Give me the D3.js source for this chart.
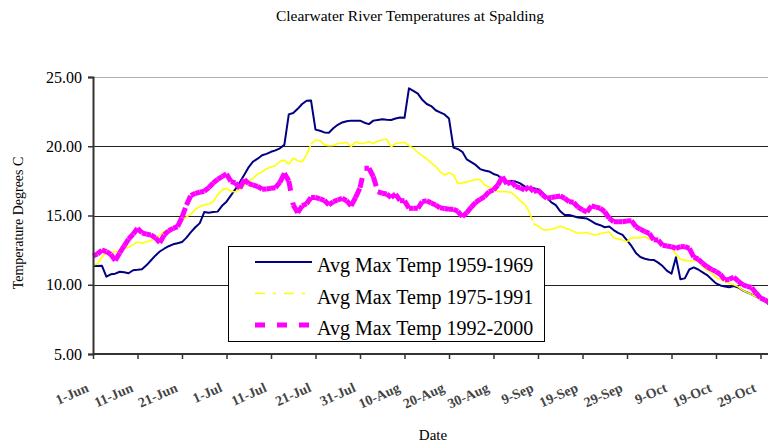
<!DOCTYPE html>
<html>
<head>
<meta charset="utf-8">
<script src="https://cdn.jsdelivr.net/npm/d3@7"></script>
<style>
body { margin: 0; background: #fff; }
svg { display: block; font-family: "Liberation Serif", "Times New Roman", serif; }
</style>
</head>
<body>
<div id="chart"></div>
<script>
// daily average max temperatures, 1 Jun .. 31 Oct
const temps1959 = [
  11.35, 11.35, 11.38, 10.58, 10.75, 10.8, 10.94, 10.9, 10.83, 11.05,
  11.08, 11.12, 11.4, 11.75, 12.1, 12.4, 12.6, 12.78, 12.92, 13.0,
  13.08, 13.4, 13.8, 14.15, 14.45, 15.25, 15.2, 15.25, 15.28, 15.7,
  16.0, 16.45, 16.9, 17.4, 17.95, 18.5, 18.9, 19.1, 19.35, 19.45,
  19.6, 19.7, 19.85, 20.1, 22.3, 22.4, 22.7, 23.05, 23.29, 23.3,
  21.2, 21.12, 21.0, 20.98, 21.3, 21.55, 21.72, 21.8, 21.85, 21.85,
  21.85, 21.7, 21.6, 21.85, 21.9, 21.95, 21.92, 21.9, 22.0, 22.08,
  22.05, 24.18, 24.0, 23.8, 23.35, 23.05, 22.9, 22.6, 22.45, 22.3,
  22.0, 19.9, 19.8, 19.6, 19.05, 18.85, 18.65, 18.35, 18.25, 18.18,
  18.0, 17.9, 17.55, 17.44, 17.5, 17.45, 17.32, 17.1, 16.96, 16.96,
  16.9, 16.65, 16.3, 15.95, 15.75, 15.3, 15.04, 15.04, 14.95, 14.85,
  14.82, 14.78, 14.6, 14.4, 14.3, 14.15, 14.2, 13.95, 13.75, 13.6,
  13.2, 12.8, 12.3, 12.0, 11.88, 11.8, 11.79, 11.6, 11.35, 11.0,
  10.8, 11.98, 10.4, 10.46, 11.1, 11.25, 11.1, 10.9, 10.7, 10.4,
  10.1, 9.95, 9.88, 9.82, 9.9, 9.8, 9.6, 9.45, 9.3, 9.15,
  9.0, 8.8, 8.55
];
const temps1975 = [
  11.43, 11.5, 12.0, 12.3, 12.35, 12.38, 12.45, 12.6, 12.7, 12.9,
  13.1, 13.0, 13.1, 13.2, 13.3, 13.6, 13.85, 13.97, 14.1, 14.3,
  14.65, 14.9, 15.1, 15.45, 15.65, 15.75, 15.83, 16.0, 16.5, 16.85,
  16.96, 16.75, 16.7, 16.89, 17.2, 17.45, 17.7, 18.0, 18.15, 18.38,
  18.5, 18.6, 18.9, 19.0, 18.7, 19.15, 18.95, 18.88, 19.4, 20.15,
  20.45, 20.42, 20.1, 20.04, 20.05, 20.2, 20.22, 20.28, 19.97, 20.33,
  20.2, 20.22, 20.33, 20.2, 20.38, 20.45, 20.5, 19.95, 20.2, 20.25,
  20.28, 20.05, 19.85, 19.55, 19.3, 19.1, 18.8, 18.55, 18.16, 17.92,
  18.09, 17.95, 17.3, 17.35, 17.44, 17.5, 17.6, 17.6, 17.2, 17.05,
  17.0, 16.72, 16.72, 16.72, 16.65, 16.4, 16.05, 15.8, 15.3, 14.4,
  14.24, 14.0, 13.95, 14.0, 14.1, 14.24, 14.1, 14.0, 13.85, 13.72,
  13.74, 13.76, 13.65, 13.59, 13.7, 13.75, 13.83, 13.4, 13.3, 13.23,
  13.1, 13.4, 13.38, 13.4, 13.47, 13.3, 13.2, 13.1, 12.95, 12.8,
  12.65, 12.2, 11.85, 11.76, 11.74, 11.74, 11.74, 11.3, 11.05, 10.85,
  10.5, 10.4, 10.25, 10.1, 10.0, 9.85, 9.6, 9.45, 9.3, 9.14,
  8.95, 8.78, 8.6
];
const temps1992 = [
  12.08, 12.22, 12.5, 12.4, 12.2, 11.75, 12.3, 12.8, 13.3, 13.65,
  14.07, 13.75, 13.65, 13.6, 13.4, 13.04, 13.6, 13.9, 14.07, 14.2,
  14.87, 15.76, 16.45, 16.6, 16.68, 16.75, 17.0, 17.35, 17.6, 17.8,
  18.0, 17.45, 17.35, 16.96, 17.6, 17.3, 17.2, 17.1, 16.9, 16.92,
  16.96, 17.0, 17.4, 18.04, 17.5, 15.76, 15.2, 15.7, 15.85, 16.3,
  16.3, 16.2, 16.1, 15.76, 16.0, 16.12, 16.24, 16.07, 15.69, 16.3,
  17.0, 18.41, 18.41, 17.8, 16.72, 16.6, 16.55, 16.3, 16.55, 16.07,
  16.07, 15.52, 15.52, 15.52, 16.0, 16.07, 15.9, 15.76, 15.55, 15.5,
  15.45, 15.45, 15.3, 14.91, 15.2, 15.6, 15.95, 16.17, 16.36, 16.72,
  16.84, 17.2, 17.8, 17.27, 17.44, 17.08, 17.0, 16.84, 17.08, 16.72,
  16.84, 16.5, 16.24, 16.3, 16.35, 16.41, 16.24, 16.0, 15.95, 15.6,
  15.4, 15.25, 15.69, 15.6, 15.52, 15.27, 14.8, 14.55, 14.55, 14.55,
  14.6, 14.63, 14.19, 14.0, 13.85, 13.71, 13.25, 13.23, 12.85, 12.8,
  12.75, 12.63, 12.75, 12.75, 12.63, 12.0, 11.85, 11.55, 11.3, 11.11,
  10.95, 10.75, 10.34, 10.39, 10.55, 10.25, 10.0, 9.88, 9.8, 9.4,
  9.05, 8.9, 8.75
];
const seriesNames = ["Avg Max Temp 1959-1969", "Avg Max Temp 1975-1991", "Avg Max Temp 1992-2000"];
const tickLabels = ["1-Jun", "11-Jun", "21-Jun", "1-Jul", "11-Jul", "21-Jul", "31-Jul", "10-Aug",
  "20-Aug", "30-Aug", "9-Sep", "19-Sep", "29-Sep", "9-Oct", "19-Oct", "29-Oct"];
const yTicks = [5, 10, 15, 20, 25];

const W = 768, H = 447;
const margin = { top: 77, left: 93, bottom: 354, right: 769.4 };
const serif = "'Liberation Serif', 'Times New Roman', serif";

const svg = d3.select("#chart").append("svg")
  .attr("width", W)
  .attr("height", H);
svg.append("rect").attr("width", W).attr("height", H).attr("fill", "#fff");

const start = new Date(Date.UTC(2001, 5, 1));
const end = d3.utcDay.offset(start, temps1959.length - 1);
const x = d3.scaleUtc().domain([start, end]).range([margin.left, margin.right]);
const y = d3.scaleLinear().domain([5, 25]).range([margin.bottom, margin.top]);

// grid lines
svg.append("g").selectAll("line")
  .data(yTicks.filter(d => d > 5))
  .enter().append("line")
  .attr("x1", margin.left).attr("x2", W)
  .attr("y1", d => Math.round(y(d)) + 0.5).attr("y2", d => Math.round(y(d)) + 0.5)
  .attr("stroke", d => d === 25 ? "#b0b0b0" : "#222")
  .attr("stroke-width", 1);

// series
const series = [
  { name: seriesNames[0], values: temps1959, color: "#000080", width: 2, dash: null },
  { name: seriesNames[1], values: temps1975, color: "#ffff00", width: 1.6, dash: "10,8,3,8" },
  { name: seriesNames[2], values: temps1992, color: "#ff00ff", width: 5, dash: "10,12" }
];

series.forEach(s => {
  const pts = s.values.map((v, i) => ({ date: d3.utcDay.offset(start, i), v: v }));
  if (!s.dash) {
    svg.append("path")
      .datum(pts)
      .attr("fill", "none")
      .attr("stroke", s.color)
      .attr("stroke-width", s.width)
      .attr("stroke-linejoin", "round")
      .attr("d", d3.line().x(d => x(d.date)).y(d => y(d.v)));
  } else {
    // Excel restarts the dash pattern on every segment
    svg.append("g").selectAll("line")
      .data(d3.pairs(pts))
      .enter().append("line")
      .attr("x1", d => x(d[0].date)).attr("y1", d => y(d[0].v))
      .attr("x2", d => x(d[1].date)).attr("y2", d => y(d[1].v))
      .attr("stroke", s.color)
      .attr("stroke-width", s.width)
      .attr("stroke-dasharray", s.dash);
  }
});

// y axis
const yAxis = svg.append("g")
  .attr("transform", "translate(" + margin.left + ",0)")
  .call(d3.axisLeft(y).tickValues(yTicks).tickFormat(d3.format(".2f")).tickSize(5).tickPadding(6));
yAxis.attr("font-family", serif);
yAxis.select(".domain").attr("stroke", "#333").attr("stroke-width", 2);
yAxis.selectAll(".tick line").attr("stroke", "#333").attr("stroke-width", 1.5);
yAxis.selectAll(".tick text")
  .attr("font-size", 16).attr("fill", "#000");

// x axis
const xTickValues = tickLabels.map((t, i) => d3.utcDay.offset(start, i * 10));
const xAxis = svg.append("g")
  .attr("transform", "translate(0," + margin.bottom + ")")
  .call(d3.axisBottom(x).tickValues(xTickValues).tickFormat((d, i) => tickLabels[i]).tickSize(5).tickSizeOuter(0));
xAxis.attr("font-family", serif);
xAxis.select(".domain").attr("stroke", "#333").attr("stroke-width", 2).attr("d", "M" + margin.left + ",0H" + (W + 5));
xAxis.selectAll(".tick line").attr("stroke", "#333").attr("stroke-width", 1.5);
xAxis.selectAll(".tick text")
  .attr("font-size", 14).attr("fill", "#444")
  .attr("font-weight", "bold")
  .attr("text-anchor", "end")
  .attr("dy", 0)
  .attr("y", 0)
  .attr("transform", "translate(-4,37) rotate(-24)");

// titles
svg.append("text")
  .attr("x", 410).attr("y", 21)
  .attr("text-anchor", "middle")
  .attr("font-size", 15.5)
  .text("Clearwater River Temperatures at Spalding");

svg.append("text")
  .attr("transform", "translate(23,223) rotate(-90)")
  .attr("text-anchor", "middle")
  .attr("font-size", 14)
  .text("Temperature Degrees C");

svg.append("text")
  .attr("x", 433).attr("y", 440)
  .attr("text-anchor", "middle")
  .attr("font-size", 15)
  .text("Date");

// legend
const legend = svg.append("g");
legend.append("rect")
  .attr("x", 228.5).attr("y", 246.5)
  .attr("width", 316).attr("height", 95)
  .attr("fill", "#fff").attr("stroke", "#000").attr("stroke-width", 1);
const rows = legend.selectAll("g.row")
  .data(series)
  .enter().append("g")
  .attr("class", "row")
  .attr("transform", (d, i) => "translate(0," + (i * 31.5) + ")");
rows.append("line")
  .attr("x1", 255).attr("x2", 312)
  .attr("y1", 262).attr("y2", 262)
  .attr("stroke", d => d.color)
  .attr("stroke-width", d => d.width)
  .attr("stroke-dasharray", d => d.dash);
rows.append("text")
  .attr("x", 317).attr("y", 272)
  .attr("font-size", 20)
  .text(d => d.name);
</script>
</body>
</html>
